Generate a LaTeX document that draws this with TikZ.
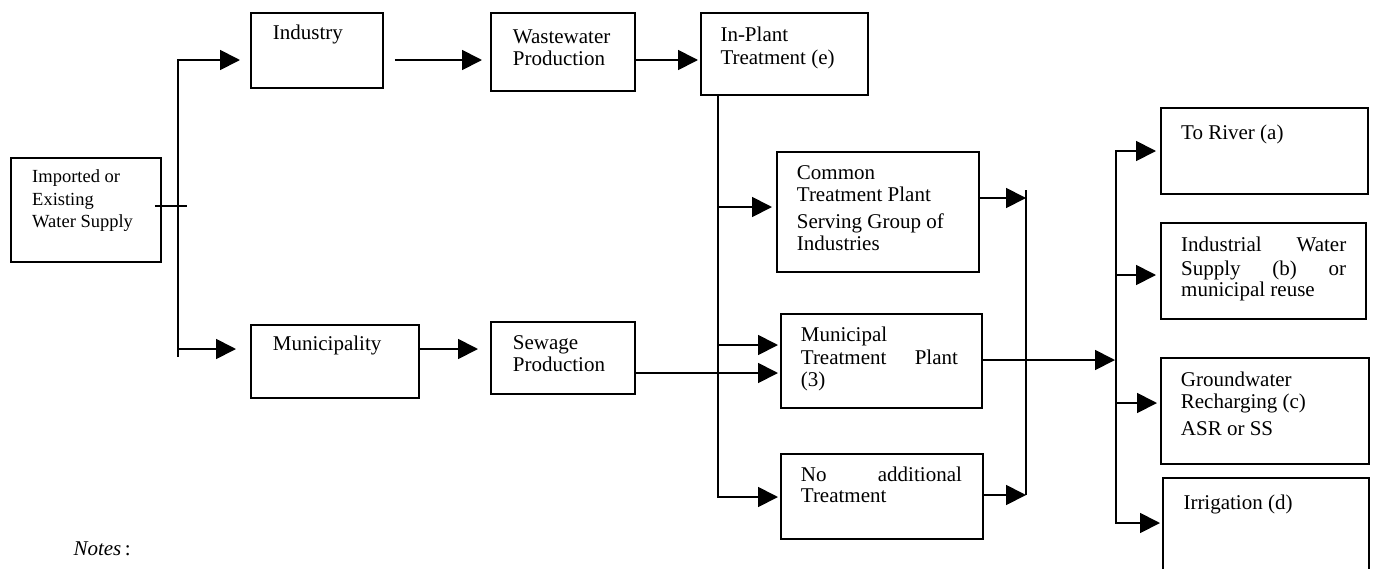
\documentclass[tikz,border=0pt]{standalone}
\usepackage{fontspec}
\setmainfont{Liberation Serif}
\usetikzlibrary{arrows.meta,calc}
\tikzset{
  box/.style={draw, line width=1.8pt, inner sep=0pt, anchor=north west},
  ln/.style={line width=1.8pt},
  arr/.style={ln, -{Triangle[length=20pt,width=20pt]}},
  darr/.style={ln, {Triangle[length=20pt,width=20pt]}-{Triangle[length=20pt,width=20pt]}},
  txt/.style={inner sep=0pt, anchor=base west, font=\fontsize{21}{22.5}\selectfont},
  stxt/.style={txt, font=\fontsize{18.5}{22.3}\selectfont},
}
\newcommand{\pb}[1]{\parbox[t]{300pt}{\raggedright #1}}
\begin{document}
\begin{tikzpicture}[x=1pt,y=-1pt]
\useasboundingbox (0,0) rectangle (1373,568);
\clip (0,0) rectangle (1373,568);
% boxes
\node[box, minimum width=150pt, minimum height=104pt] (sup) at (10,157) {};
\node[box, minimum width=132pt, minimum height=75pt]  (ind) at (250,12) {};
\node[box, minimum width=144pt, minimum height=78pt]  (ww)  at (490,12) {};
\node[box, minimum width=167pt, minimum height=82pt]  (inp) at (700,12) {};
\node[box, minimum width=202pt, minimum height=120pt] (com) at (776,151) {};
\node[box, minimum width=201pt, minimum height=94pt]  (mtp) at (780,313) {};
\node[box, minimum width=202pt, minimum height=85pt]  (nat) at (780,453) {};
\node[box, minimum width=168pt, minimum height=73pt]  (mun) at (250,324) {};
\node[box, minimum width=144pt, minimum height=72pt]  (sew) at (490,321) {};
\node[box, minimum width=207pt, minimum height=86pt]  (riv) at (1160,107) {};
\node[box, minimum width=205pt, minimum height=96pt]  (iws) at (1160,222) {};
\node[box, minimum width=208pt, minimum height=106pt] (gw)  at (1160,357) {};
\node[box, minimum width=206pt, minimum height=123pt] (irr) at (1162,477) {};
% texts
\node[stxt] (tsup) at (32,182.7) {\pb{Imported or\\Existing\\Water Supply}};
\node[txt] (tind) at (272.7,39.3) {\pb{Industry}};
\node[txt] (tww)  at (512.7,43.3) {\pb{Wastewater\\Production}};
\node[txt] (tinp) at (720.3,41.7) {\pb{In-Plant\\Treatment (e)}};
\node[txt] (tcom) at (796.7,179.3) {\pb{Common\\Treatment Plant\\[4pt]Serving Group of\\Industries}};
\node[txt] (tmtp) at (800.7,341.7) {\pb{Municipal\\\makebox[157pt][s]{Treatment Plant}\\(3)}};
\node[txt] (tnat) at (800.7,481.7) {\pb{\makebox[161pt][s]{No additional}\\[-1.5pt]Treatment}};
\node[txt] (tmun) at (272.7,350.7) {\pb{Municipality}};
\node[txt] (tsew) at (512.7,349.3) {\pb{Sewage\\Production}};
\node[txt] (triv) at (1181,139) {\pb{To River (a)}};
\node[txt] (tiws) at (1181,251.7) {\pb{\makebox[165pt][s]{Industrial Water}\\[1.5pt]\makebox[165pt][s]{Supply (b) or}\\[-1.5pt]municipal reuse}};
\node[txt] (tgw)  at (1180.7,386) {\pb{Groundwater\\Recharging (c)\\[4.5pt]ASR or SS}};
\node[txt] (tirr) at (1183.3,509.3) {\pb{Irrigation (d)}};
\node[txt] (notes) at (73.3,555) {\textit{Notes}\,:};
% coordinates
\coordinate (t1) at (178,60);
\coordinate (t2) at (178,349);
\coordinate (t3) at (178,357);
\coordinate (r1) at (0,60);
\coordinate (v1) at (718,0);
\coordinate (c1) at (1026,190);
\coordinate (c2) at (1026,495);
\coordinate (d1) at (1116,151);
\coordinate (d2) at (1116,523);
% supply tick and trunk
\draw[ln] ($(sup.east)+(-7,-4)$) -- ++(32,0);
\draw[ln] (t2) -- (t3);
\draw[darr] ($(ind.west|-t1)+(-10,0)$) -- (t1) -- (t2) -- ($(mun.west|-t2)+(-14,0)$);
% top row
\draw[arr] ($(ind.east|-r1)+(11,0)$) -- ($(ww.west|-r1)+(-8,0)$);
\draw[arr] (ww.east|-r1) -- ($(inp.west|-r1)+(-2,0)$);
% in-plant distribution
\draw[arr] (v1|-inp.south) -- (v1|-0,497) -- ($(nat.west|-0,497)+(-2,0)$);
\draw[arr] (v1|-0,207) -- ($(com.west|-0,207)+(-4,0)$);
\draw[arr] (v1|-0,345) -- ($(mtp.west|-0,345)+(-2,0)$);
% municipal row
\draw[arr] (mun.east|-t2) -- ($(sew.west|-t2)+(-12,0)$);
\draw[arr] (sew.east|-0,373) -- ($(mtp.west|-0,373)+(-2,0)$);
% collector
\draw[ln] (c1) -- (c2);
\draw[arr] (com.east|-0,198) -- (c1|-0,198);
\draw[arr] (nat.east|-c2) -- (c2);
\draw[arr] (mtp.east|-0,360) -- ($(d1|-0,360)+(-1,0)$);
% distribution
\draw[darr] ($(riv.west|-d1)+(-4,0)$) -- (d1) -- (d2) -- ($(irr.west|-d2)+(-2,0)$);
\draw[arr] (d1|-0,275) -- ($(iws.west|-0,275)+(-4,0)$);
\draw[arr] (d1|-0,403) -- ($(gw.west|-0,403)+(-3,0)$);
\end{tikzpicture}
\end{document}
